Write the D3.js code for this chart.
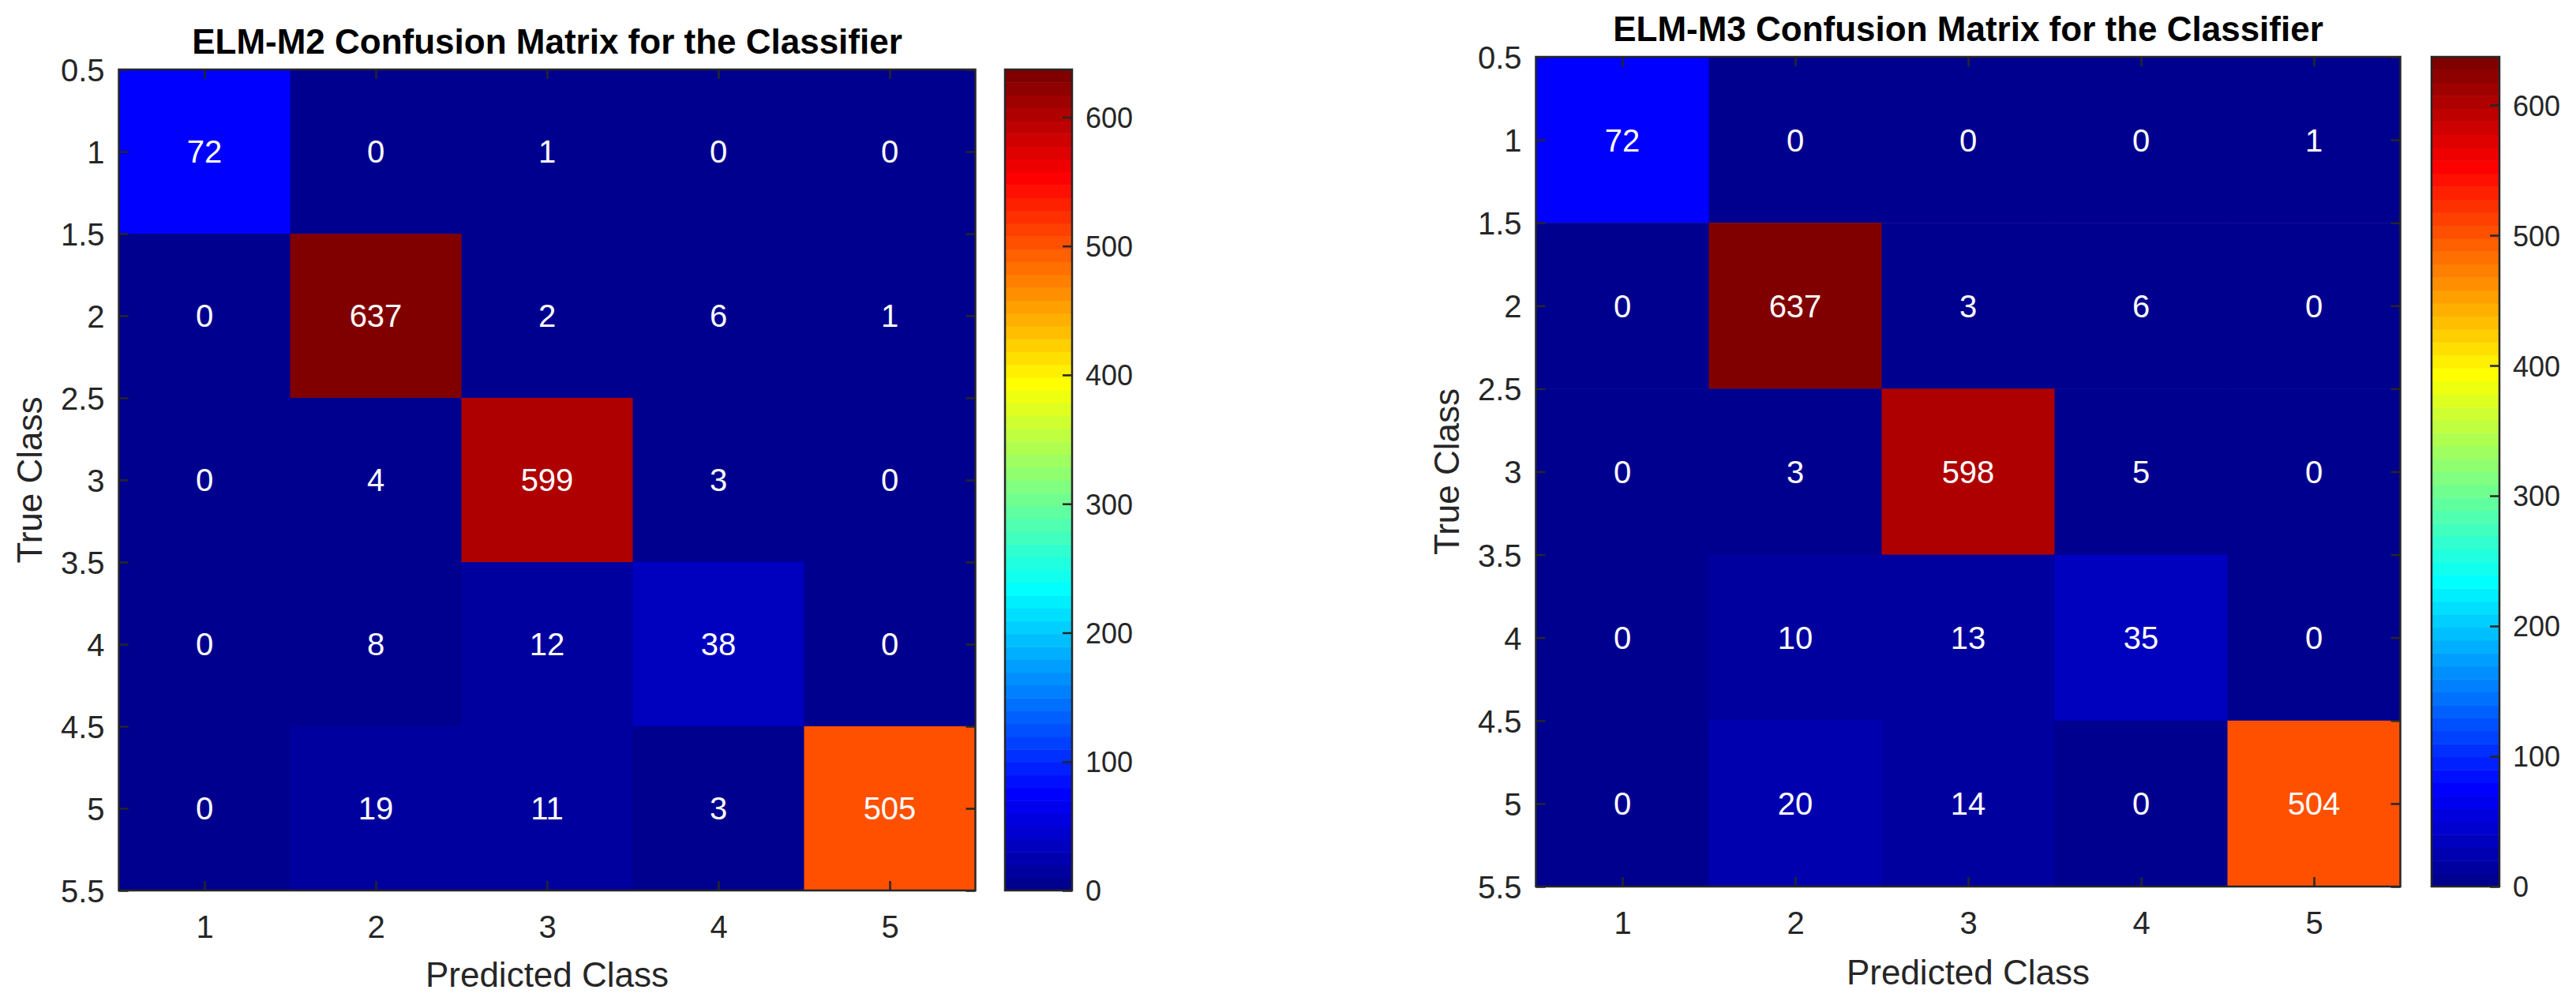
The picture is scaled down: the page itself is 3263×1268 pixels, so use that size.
<!DOCTYPE html>
<html>
<head>
<meta charset="utf-8">
<script src="https://cdn.jsdelivr.net/npm/d3@7"></script>
<style>
  html, body { margin: 0; padding: 0; background: #fff; }
  svg { display: block; font-family: "Liberation Sans", Arial, sans-serif; }
</style>
</head>
<body>
<svg id="chart" width="3263" height="1268"></svg>
<script>
const classes = [1, 2, 3, 4, 5];
const yTicks = [0.5, 1, 1.5, 2, 2.5, 3, 3.5, 4, 4.5, 5, 5.5];
const barTicks = [0, 100, 200, 300, 400, 500, 600];

// rows = true class, columns = predicted class
const m2Values = [
    [72, 0, 1, 0, 0],
    [0, 637, 2, 6, 1],
    [0, 4, 599, 3, 0],
    [0, 8, 12, 38, 0],
    [0, 19, 11, 3, 505]
];
const m3Values = [
    [72, 0, 0, 0, 1],
    [0, 637, 3, 6, 0],
    [0, 3, 598, 5, 0],
    [0, 10, 13, 35, 0],
    [0, 20, 14, 0, 504]
];
const titles = [
    "ELM-M2 Confusion Matrix for the Classifier",
    "ELM-M3 Confusion Matrix for the Classifier"
];

// matlab style jet(m)
function jet(m) {
    const n = Math.ceil(m / 4);
    const u = [];
    for (let i = 1; i <= n; i++) u.push(i / n);
    for (let i = 0; i < n - 1; i++) u.push(1);
    for (let i = n; i >= 1; i--) u.push(i / n);
    const g0 = Math.ceil(n / 2) - (m % 4 === 1 ? 1 : 0);
    const map = d3.range(m).map(() => [0, 0, 0]);
    u.forEach((v, k) => {
        const g = g0 + k + 1, r = g + n, b = g - n;
        if (g >= 1 && g <= m) map[g - 1][1] = v;
        if (r >= 1 && r <= m) map[r - 1][0] = v;
        if (b >= 1 && b <= m) map[b - 1][2] = v;
    });
    return map.map(c => d3.rgb(c[0] * 255, c[1] * 255, c[2] * 255).formatHex());
}
const cmap = jet(64);

const axisColor = "#262626";
const svg = d3.select("#chart");

const drawMatrix = (props) => {
    const data = props.data;
    const cmax = d3.max(data.flat());
    const cmin = d3.min(data.flat());
    const colorOf = (v) => {
        let idx = Math.floor((v - cmin) / (cmax - cmin) * cmap.length);
        idx = Math.max(0, Math.min(cmap.length - 1, idx));
        return cmap[idx];
    };

    const g = svg.append("g");

    const xScale = d3.scaleLinear().domain([0.5, 5.5]).range([props.left, props.right]);
    const yScale = d3.scaleLinear().domain([0.5, 5.5]).range([props.top, props.bottom]);

    const cells = [];
    data.forEach((row, i) => row.forEach((v, j) => cells.push({ t: classes[i], p: classes[j], v: v })));

    g.selectAll("rect.cell")
        .data(cells)
        .join("rect")
        .attr("class", "cell")
        .attr("x", d => xScale(d.p - 0.5))
        .attr("y", d => yScale(d.t - 0.5))
        .attr("width", d => xScale(d.p + 0.5) - xScale(d.p - 0.5) + 0.5)
        .attr("height", d => yScale(d.t + 0.5) - yScale(d.t - 0.5) + 0.5)
        .attr("fill", d => colorOf(d.v));

    g.selectAll("text.val")
        .data(cells)
        .join("text")
        .attr("class", "val")
        .attr("x", d => xScale(d.p))
        .attr("y", d => yScale(d.t))
        .attr("dy", "0.36em")
        .attr("text-anchor", "middle")
        .attr("fill", "#fff")
        .style("font-size", "40px")
        .text(d => d.v);

    // axes, ticks pointing inside like matlab
    const styleAxis = (sel) => {
        sel.select(".domain").remove();
        sel.selectAll("line").attr("stroke", axisColor).attr("stroke-width", 2.5);
        sel.selectAll("text").attr("fill", axisColor).style("font-size", "40px");
    };

    g.append("g")
        .attr("transform", `translate(${props.left},0)`)
        .call(d3.axisLeft(yScale).tickValues(yTicks).tickSize(-12).tickPadding(18).tickFormat(d => String(d)))
        .call(styleAxis)
        .selectAll("text").attr("dy", "0.36em");

    g.append("g")
        .attr("transform", `translate(${props.right},0)`)
        .call(d3.axisRight(yScale).tickValues(yTicks).tickSize(-12).tickFormat(""))
        .call(styleAxis);

    const xb = g.append("g")
        .attr("transform", `translate(0,${props.bottom})`)
        .call(d3.axisBottom(xScale).tickValues(classes).tickSize(-12).tickFormat(d => String(d)))
        .call(styleAxis);
    xb.selectAll("text").attr("y", 60).attr("dy", 0);

    g.append("g")
        .attr("transform", `translate(0,${props.top})`)
        .call(d3.axisTop(xScale).tickValues(classes).tickSize(-12).tickFormat(""))
        .call(styleAxis);

    g.append("rect")
        .attr("x", props.left)
        .attr("y", props.top)
        .attr("width", props.right - props.left)
        .attr("height", props.bottom - props.top)
        .attr("fill", "none")
        .attr("stroke", axisColor)
        .attr("stroke-width", 2.5);

    // title and labels
    g.append("text")
        .attr("x", (props.left + props.right) / 2)
        .attr("y", props.titleY)
        .attr("text-anchor", "middle")
        .style("font-size", "44px")
        .style("font-weight", "bold")
        .attr("fill", "#000")
        .text(props.title);

    g.append("text")
        .attr("x", (props.left + props.right) / 2)
        .attr("y", props.xLabelY)
        .attr("text-anchor", "middle")
        .style("font-size", "44px")
        .attr("fill", axisColor)
        .text("Predicted Class");

    g.append("text")
        .attr("transform", `translate(${props.left - 98},${(props.top + props.bottom) / 2}) rotate(-90)`)
        .attr("text-anchor", "middle")
        .style("font-size", "44px")
        .attr("fill", axisColor)
        .text("True Class");

    // colorbar
    const cScale = d3.scaleLinear().domain([cmin, cmax]).range([props.bottom, props.top]);
    const bandH = (cmax - cmin) / cmap.length;

    g.selectAll("rect.band")
        .data(cmap)
        .join("rect")
        .attr("class", "band")
        .attr("x", props.cbLeft)
        .attr("width", props.cbRight - props.cbLeft)
        .attr("y", (d, i) => cScale(cmin + (i + 1) * bandH))
        .attr("height", (d, i) => cScale(cmin + i * bandH) - cScale(cmin + (i + 1) * bandH) + 0.5)
        .attr("fill", d => d);

    const cb = g.append("g")
        .attr("transform", `translate(${props.cbRight},0)`)
        .call(d3.axisRight(cScale).tickValues(barTicks).tickSize(-12).tickPadding(17))
        .call(styleAxis);
    cb.selectAll("text").style("font-size", "36px").attr("dy", "0.36em");

    g.append("rect")
        .attr("x", props.cbLeft)
        .attr("y", props.top)
        .attr("width", props.cbRight - props.cbLeft)
        .attr("height", props.bottom - props.top)
        .attr("fill", "none")
        .attr("stroke", axisColor)
        .attr("stroke-width", 2.5);
};

drawMatrix({
    data: m2Values, title: titles[0],
    left: 150.5, right: 1235.5, top: 88, bottom: 1128,
    cbLeft: 1273, cbRight: 1358, titleY: 68, xLabelY: 1250
});

drawMatrix({
    data: m3Values, title: titles[1],
    left: 1945.5, right: 3040.5, top: 72, bottom: 1123,
    cbLeft: 3080, cbRight: 3166, titleY: 52, xLabelY: 1247
});
</script>
</body>
</html>
